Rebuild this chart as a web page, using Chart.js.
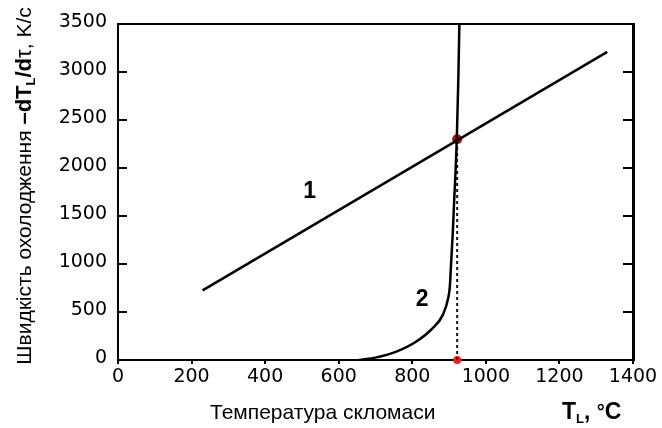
<!DOCTYPE html>
<html>
<head>
<meta charset="utf-8">
<script src="https://cdn.jsdelivr.net/npm/chart.js@4/dist/chart.umd.min.js"></script>
<style>
  html, body { margin: 0; padding: 0; background: #fff; }
  canvas { display: block; }
</style>
</head>
<body>
<canvas id="coolChart" width="662" height="428"></canvas>
<script>
// Дані
const line1X = [230, 1330];
const line1Y = [725, 3210];

const curve2X = [655, 700, 755, 810, 855, 883, 898, 902, 905, 910, 914, 918, 921, 925, 928];
const curve2Y = [0, 25, 85, 190, 330, 470, 650, 760, 970, 1320, 1670, 2000, 2300, 2900, 3500];

// точка перетину 1 і 2
const crossX = 922;
const crossY = 2300;

// номери кривих
const curveLabels = ['1', '2'];
const curveLabelX = [521, 827];
const curveLabelY = [1750, 630];

const xMin = 0, xMax = 1400, xStep = 200;
const yMin = 0, yMax = 3500, yStep = 500;

const toPoints = (xs, ys) => xs.map((x, i) => ({ x: x, y: ys[i] }));

// Підписи осей і номери кривих (з індексом L)
const textPlugin = {
  id: 'textPlugin',
  afterDraw(chart) {
    const ctx = chart.ctx;
    const xs = chart.scales.x, ys = chart.scales.y;
    ctx.save();
    ctx.fillStyle = '#000';

    // номери кривих
    ctx.font = 'bold 23px "Liberation Sans", Arial';
    ctx.textAlign = 'center';
    ctx.textBaseline = 'middle';
    curveLabels.forEach((t, i) => {
      ctx.fillText(t, xs.getPixelForValue(curveLabelX[i]), ys.getPixelForValue(curveLabelY[i]));
    });
    ctx.textBaseline = 'alphabetic';
    ctx.textAlign = 'left';

    // частини тексту: [текст, шрифт, зсув базової лінії]
    const drawParts = (parts, x, y) => {
      let cx = x;
      parts.forEach(p => {
        ctx.font = p[1];
        ctx.fillText(p[0], cx, y + p[2]);
        cx += ctx.measureText(p[0]).width;
      });
    };
    const partsWidth = parts => parts.reduce((s, p) => { ctx.font = p[1]; return s + ctx.measureText(p[0]).width; }, 0);

    // назва осі X
    const xParts = [
      ['Температура скломаси', '21px "Liberation Sans", Arial', 0]
    ];
    drawParts(xParts, 210, 419);
    const xUnit = [
      ['T', 'bold 23px "Liberation Sans", Arial', 0],
      ['L', 'bold 13px "Liberation Sans", Arial', 4],
      [', ', 'bold 23px "Liberation Sans", Arial', 0],
      ['°', 'bold 20px "Liberation Sans", Arial', -1],
      ['C', 'bold 23px "Liberation Sans", Arial', 0]
    ];
    drawParts(xUnit, 562, 419);

    // назва осі Y (повернута)
    const yParts = [
      ['Швидкість охолодження ', '21px "Liberation Sans", Arial', 0],
      ['–dT', 'bold 22px "Liberation Sans", Arial', 0],
      ['L', 'bold 13px "Liberation Sans", Arial', 4],
      ['/d', 'bold 22px "Liberation Sans", Arial', 0],
      ['τ', '22px "Liberation Sans", Arial', 0],
      [', K/c', '21px "Liberation Sans", Arial', 0]
    ];
    const w = partsWidth(yParts);
    ctx.translate(31, 186);
    ctx.rotate(-Math.PI / 2);
    drawParts(yParts, -w / 2, 0);
    ctx.restore();
  }
};

const plainNumber = v => String(v);

const ctx = document.getElementById('coolChart').getContext('2d');
new Chart(ctx, {
  type: 'scatter',
  data: {
    datasets: [
      {
        label: '1',
        data: toPoints(line1X, line1Y),
        showLine: true,
        borderColor: '#000',
        borderWidth: 2.5,
        pointRadius: 0
      },
      {
        label: '2',
        data: toPoints(curve2X, curve2Y),
        showLine: true,
        borderColor: '#000',
        borderWidth: 2.5,
        pointRadius: 0,
        cubicInterpolationMode: 'monotone'
      },
      {
        label: 'dotted',
        data: toPoints([crossX, crossX], [yMin, crossY]),
        showLine: true,
        borderColor: '#111',
        borderWidth: 2,
        borderDash: [3, 3],
        pointRadius: 0
      },
      {
        label: 'cross',
        data: toPoints([crossX], [crossY]),
        pointRadius: 5,
        pointBackgroundColor: '#b00a0a',
        pointBorderWidth: 0
      },
      {
        label: 'base',
        data: toPoints([crossX], [yMin]),
        pointRadius: 4,
        pointBackgroundColor: '#ff1a1a',
        pointBorderWidth: 0,
        clip: false
      }
    ]
  },
  options: {
    responsive: false,
    animation: false,
    layout: { padding: 0 },
    plugins: {
      legend: { display: false },
      tooltip: { enabled: false }
    },
    scales: {
      x: {
        type: 'linear',
        position: 'bottom',
        min: xMin, max: xMax,
        ticks: {
          stepSize: xStep,
          color: '#000',
          padding: 2,
          callback: plainNumber,
          font: { family: 'DejaVu Sans', size: 19 }
        },
        grid: { drawOnChartArea: false, tickLength: 4, color: '#000', lineWidth: 2 },
        border: { color: '#000', width: 2 },
        afterFit: s => { s.height = 68; }
      },
      xTop: {
        type: 'linear',
        position: 'top',
        min: xMin, max: xMax,
        ticks: { display: false },
        grid: { display: false },
        border: { color: '#000', width: 2 },
        afterFit: s => { s.height = 24; }
      },
      y: {
        type: 'linear',
        position: 'left',
        min: yMin, max: yMax,
        ticks: {
          stepSize: yStep,
          color: '#000',
          padding: 20,
          labelOffset: -2,
          callback: plainNumber,
          font: { family: 'DejaVu Sans', size: 19 }
        },
        grid: { drawOnChartArea: false, tickLength: -9, color: '#000', lineWidth: 2 },
        border: { color: '#000', width: 2 },
        afterFit: s => { s.width = 118; s.paddingTop = 0; s.paddingBottom = 0; }
      },
      yRight: {
        type: 'linear',
        position: 'right',
        min: yMin, max: yMax,
        ticks: { stepSize: yStep, display: false },
        grid: { drawOnChartArea: false, tickLength: -10, color: '#000', lineWidth: 2 },
        border: { color: '#000', width: 3 },
        afterFit: s => { s.width = 29; s.paddingTop = 0; s.paddingBottom = 0; }
      }
    }
  },
  plugins: [textPlugin]
});
</script>
</body>
</html>
